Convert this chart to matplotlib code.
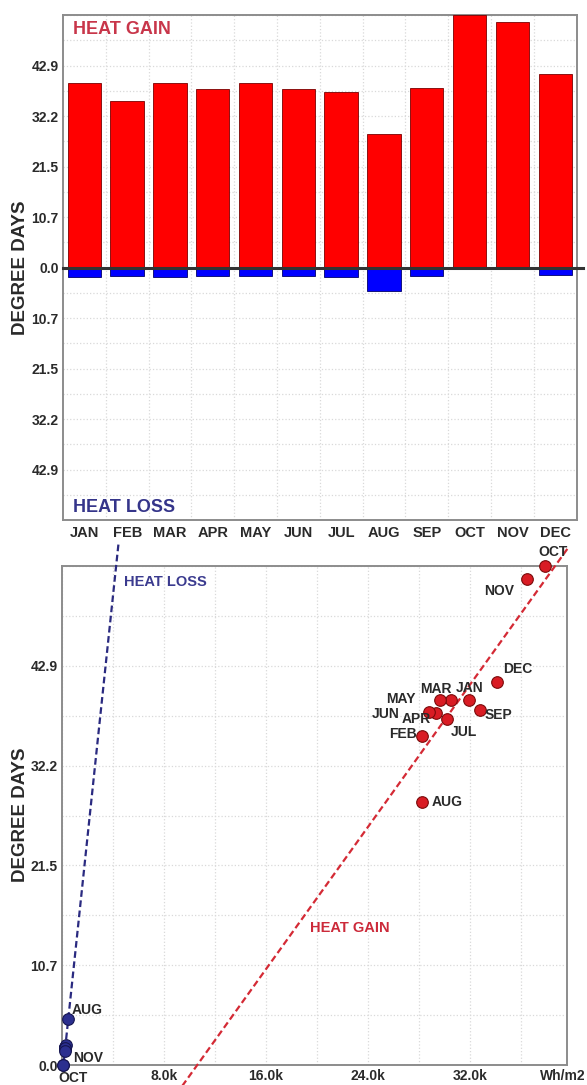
import matplotlib
matplotlib.use("Agg")
import numpy as np
import matplotlib.pyplot as plt
from matplotlib.ticker import FixedLocator, FuncFormatter, MultipleLocator

plt.rcParams["font.family"] = ["Liberation Sans", "DejaVu Sans"]
plt.rcParams["font.weight"] = "bold"

# ---- data -------------------------------------------------------------
months = ["JAN", "FEB", "MAR", "APR", "MAY", "JUN",
          "JUL", "AUG", "SEP", "OCT", "NOV", "DEC"]
gain_dd = [39.2, 35.4, 39.2, 37.9, 39.2, 38.0, 37.2, 28.3, 38.2, 53.65, 52.2, 41.2]
loss_dd = [1.9, 1.8, 1.9, 1.8, 1.8, 1.7, 2.1, 4.9, 1.8, 0.0, 0.0, 1.5]
gain_flux = [31930, 28260, 30520, 29290, 29640, 28760, 30230, 28260, 32780, 37860, 36480, 34130]
loss_flux = [260, 250, 260, 250, 250, 240, 280, 480, 250, 100, 110, 230]
flux_ticks = [8000, 16000, 24000, 32000]
flux_tick_labels = ["8.0k", "16.0k", "24.0k", "32.0k"]
unit_label = "Wh/m2"

# ---- styling / layout -------------------------------------------------
DD_MAX = max(gain_dd)
STEP = DD_MAX / 5
FLUX_MAX = 39600
TXT = "#2a2a2a"
GRID = dict(color="#d9d9d9", linestyle=":", linewidth=0.9)
SPINE = "#8c8c8c"
TICK_FS = 10
ANN_FS = 10

gain_offsets = {"OCT": (6, 10), "NOV": (-20, -8), "DEC": (15, 9), "JAN": (0, 9),
                "MAR": (-11, 8), "MAY": (-28, 1), "JUN": (-31, -2), "APR": (-14, -5),
                "JUL": (12, -9), "SEP": (13, -4), "FEB": (-14, 1), "AUG": (18, 0)}
loss_offsets = {"AUG": (14, 6.5), "NOV": (18, 5), "OCT": (7, -9)}

fig = plt.figure(figsize=(5.87, 10.85), dpi=100)

# ---- monthly bar chart --------------------------------------------------
ax1 = fig.add_axes([0.1072, 0.5207, 0.8751, 0.4654])
x = np.arange(len(months))
ax1.bar(x, gain_dd, width=0.78, color="#ff0000", edgecolor="#7a0000",
        linewidth=0.6, zorder=3)
ax1.bar(x, -np.asarray(loss_dd), width=0.78, color="#0000ff", edgecolor="#00006a",
        linewidth=0.6, zorder=3)
ax1.plot([-0.5, 11.65], [0, 0], color="#333333", lw=2.2, zorder=4, clip_on=False)
ax1.set_xlim(-0.5, 11.5)
ax1.set_ylim(-DD_MAX, DD_MAX)
ax1.set_xticks(x)
ax1.set_xticklabels(months, fontsize=10.5)
ax1.xaxis.set_minor_locator(FixedLocator(x[:-1] + 0.5))
yt = [k * STEP for k in range(-4, 5)]
ax1.yaxis.set_major_locator(FixedLocator(yt))
ax1.yaxis.set_major_formatter(FuncFormatter(lambda v, p: f"{abs(v):.1f}"))
ax1.yaxis.set_minor_locator(MultipleLocator(STEP / 2))
ax1.grid(True, which="both", axis="y", **GRID)
ax1.grid(True, which="minor", axis="x", **GRID)
ax1.set_axisbelow(True)
ax1.tick_params(axis="y", which="both", length=0, labelsize=TICK_FS, colors=TXT, pad=3)
ax1.tick_params(axis="x", which="both", length=0, colors=TXT, pad=4)
for s in ax1.spines.values():
    s.set_color(SPINE)
    s.set_linewidth(1.4)
ax1.text(0.02, 0.972, "HEAT GAIN", transform=ax1.transAxes, color="#c8364a",
         fontsize=13, fontweight="bold", va="center", ha="left")
ax1.text(0.02, 0.024, "HEAT LOSS", transform=ax1.transAxes, color="#35358a",
         fontsize=13, fontweight="bold", va="center", ha="left")

# ---- degree days vs. flux scatter --------------------------------------
ax2 = fig.add_axes([0.1056, 0.01843, 0.8603, 0.4599])
ax2.set_xlim(0, FLUX_MAX)
ax2.set_ylim(0, DD_MAX)
ax2.xaxis.set_major_locator(FixedLocator([0] + flux_ticks))
ax2.set_xticklabels([""] + flux_tick_labels)
ax2.xaxis.set_minor_locator(MultipleLocator(4000))
ax2.yaxis.set_major_locator(FixedLocator([k * STEP for k in range(0, 5)]))
ax2.yaxis.set_major_formatter(FuncFormatter(lambda v, p: f"{v:.1f}"))
ax2.yaxis.set_minor_locator(MultipleLocator(STEP / 2))
ax2.grid(True, which="both", **GRID)
ax2.set_axisbelow(True)
ax2.tick_params(which="both", length=0, labelsize=TICK_FS, colors=TXT, pad=3)
for s in ax2.spines.values():
    s.set_color(SPINE)
    s.set_linewidth(1.4)
# unit label at the right end of the flux axis
ax2.annotate(unit_label, xy=(1, 0), xycoords="axes fraction", xytext=(13, -3),
             textcoords="offset points", ha="right", va="top",
             fontsize=TICK_FS, fontweight="bold", color=TXT, annotation_clip=False)

# linear fits of degree days against flux
for flux, dd, col, span in [(gain_flux, gain_dd, "#d42a35", (-3.0, 55.5)),
                             (loss_flux, loss_dd, "#2a2a80", (-0.5, 56.0))]:
    m, b = np.polyfit(np.asarray(flux, float), np.asarray(dd, float), 1)
    yy = np.array(span)
    ax2.plot((yy - b) / m, yy, color=col, lw=1.6, linestyle=(0, (3, 1.6)),
             clip_on=False, zorder=3)

ax2.scatter(gain_flux, gain_dd, s=70, color="#d91c24", edgecolor="#7a0a0a",
            linewidth=0.8, zorder=5, clip_on=False)
ax2.scatter(loss_flux, loss_dd, s=70, color="#2b2f8f", edgecolor="#15154f",
            linewidth=0.8, zorder=5, clip_on=False)

for m_, fx, dd in zip(months, gain_flux, gain_dd):
    ax2.annotate(m_, (fx, dd), xytext=gain_offsets[m_], textcoords="offset points",
                 ha="center", va="center", fontsize=ANN_FS, fontweight="bold",
                 color=TXT, zorder=6, annotation_clip=False)
for m_, fx, dd in zip(months, loss_flux, loss_dd):
    if m_ in loss_offsets:
        ax2.annotate(m_, (fx, dd), xytext=loss_offsets[m_], textcoords="offset points",
                     ha="center", va="center", fontsize=ANN_FS, fontweight="bold",
                     color=TXT, zorder=6, annotation_clip=False)

ax2.text(0.122, 0.967, "HEAT LOSS", transform=ax2.transAxes, color="#3b3b8f",
         fontsize=10.5, fontweight="bold", va="center", ha="left")
ax2.text(0.491, 0.274, "HEAT GAIN", transform=ax2.transAxes, color="#cc2a3a",
         fontsize=10.5, fontweight="bold", va="center", ha="left")

# shared axis titles
for yc in (0.7534, 0.2488):
    fig.text(0.035, yc, "DEGREE DAYS", rotation=90, ha="center", va="center",
             fontsize=13.5, fontweight="bold", color=TXT)

fig.savefig("out.png", dpi=100)
